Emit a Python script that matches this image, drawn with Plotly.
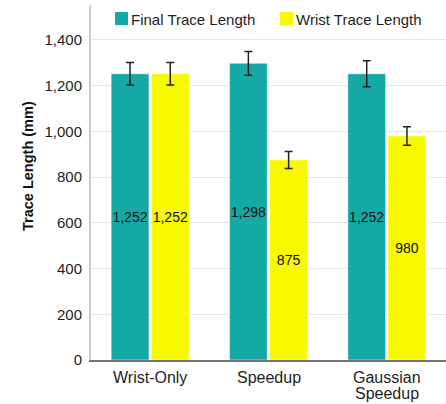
import plotly.graph_objects as go

# Conditions along the x-axis
conditions = ["Wrist-Only", "Speedup", "Gaussian<br>Speedup"]

# Mean trace lengths (mm) and their error-bar half-widths
series_names = ["Final Trace Length", "Wrist Trace Length"]
final_trace = [1252, 1298, 1252]
final_err = [49, 52, 57]
wrist_trace = [1252, 875, 980]
wrist_err = [49, 37, 40]

# Y-axis ticks
y_ticks = [0, 200, 400, 600, 800, 1000, 1200, 1400]

teal = "#15A9A6"
yellow = "#F8F800"
font_family = "Liberation Sans, Arial, sans-serif"
text_color = "#1e1e1e"

# Plot-area geometry in pixels, used to place the legend and labels
W, H = 446, 404
L, R, T, B = 91, 0, 5, 44
pw, ph = W - L - R, H - T - B


def px_x(x):
    return (x - L) / pw


def px_y(y):
    return (H - B - y) / ph


fig = go.Figure()
for name, vals, errs, color in [
    (series_names[0], final_trace, final_err, teal),
    (series_names[1], wrist_trace, wrist_err, yellow),
]:
    fig.add_trace(go.Bar(
        name=name,
        x=conditions,
        y=vals,
        showlegend=False,
        marker=dict(color=color, line=dict(color="rgba(255,255,255,0.5)", width=1)),
        error_y=dict(type="data", array=errs, visible=True,
                     color="#222222", thickness=1.5, width=4),
        texttemplate="%{y:,}",
        textposition="inside",
        insidetextanchor="middle",
        textangle=0,
        cliponaxis=False,
        textfont=dict(size=14, color="#111111", family=font_family),
    ))

# Legend: coloured squares with labels across the top of the plot
legend_items = [(series_names[0], teal, 115), (series_names[1], yellow, 280)]
for label, color, x0 in legend_items:
    fig.add_shape(type="rect", xref="paper", yref="paper",
                  x0=px_x(x0), x1=px_x(x0 + 13), y0=px_y(25), y1=px_y(12),
                  fillcolor=color, line=dict(width=0))
    fig.add_annotation(text=label, xref="paper", yref="paper",
                       x=px_x(x0 + 15), y=px_y(19.5), xanchor="left", yanchor="middle",
                       showarrow=False, borderpad=0,
                       font=dict(size=15, color=text_color, family=font_family))

# Category labels under the axis (multi-line labels use tight line spacing)
for cat in conditions:
    for i, line in enumerate(cat.split("<br>")):
        fig.add_annotation(text=line, xref="x", yref="paper", x=cat, y=0,
                           yanchor="middle", yshift=-17 - 16 * i, showarrow=False,
                           font=dict(size=16, color=text_color, family=font_family))

# Y-axis title
fig.add_annotation(text="<b>Trace Length (mm)</b>", xref="paper", yref="paper",
                   x=px_x(28), y=px_y(166), xanchor="center", yanchor="middle",
                   textangle=-90, showarrow=False,
                   font=dict(size=14.5, color="#111111", family=font_family))

fig.update_layout(
    width=W,
    height=H,
    margin=dict(l=L, r=R, t=T, b=B),
    plot_bgcolor="white",
    paper_bgcolor="white",
    barmode="group",
    bargap=0.32,
    bargroupgap=0.06,
    showlegend=False,
    font=dict(family=font_family, size=15, color=text_color),
    uniformtext=dict(minsize=14, mode="show"),
)

fig.update_yaxes(
    range=[0, 1553],
    tickvals=y_ticks,
    tickformat=",",
    tickfont=dict(size=15, color=text_color),
    showgrid=True,
    gridcolor="#E6E6E6",
    gridwidth=1,
    showline=True,
    linecolor="#CCCCCC",
    linewidth=2,
    ticks="",
    ticklabelstandoff=4,
    zeroline=False,
)
fig.update_xaxes(
    showline=True,
    linecolor="#777777",
    linewidth=2,
    ticks="",
    showticklabels=False,
)

fig.write_html("out.html")
